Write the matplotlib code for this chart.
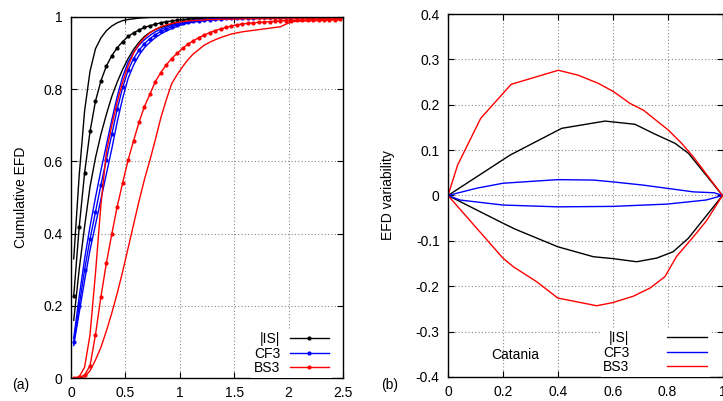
import numpy as np
import matplotlib
matplotlib.use("Agg")
import matplotlib.pyplot as plt

plt.rcParams['font.family'] = ['Liberation Sans', 'DejaVu Sans']
plt.rcParams['font.size'] = 10

# ---------------- panel (a): cumulative EFD ----------------
efd_x = np.round(np.arange(0.025, 2.5, 0.05), 3)

is_upper = [0.33, 0.56, 0.74, 0.85, 0.912, 0.942, 0.962, 0.975, 0.984, 0.990,
            0.993, 0.995, 0.997, 0.998, 0.999] + [1.0] * 35
is_mean = [0.227, 0.417, 0.568, 0.683, 0.767, 0.823, 0.864, 0.893, 0.915, 0.932,
           0.946, 0.956, 0.964, 0.971, 0.976, 0.980, 0.984, 0.987, 0.989, 0.991,
           0.993, 0.994, 0.995, 0.996, 0.997, 0.998, 0.998, 0.999, 0.999, 0.999] + [1.0] * 20
is_lower = [0.16, 0.30, 0.42, 0.53, 0.61, 0.675, 0.73, 0.78, 0.82, 0.855,
            0.885, 0.91, 0.93, 0.946, 0.957, 0.965, 0.971, 0.976, 0.980, 0.983,
            0.986, 0.988, 0.990, 0.992, 0.993, 0.994, 0.995, 0.996, 0.997, 0.998,
            0.998, 0.999, 0.999, 0.999, 0.999] + [1.0] * 15

cf3_upper = [0.11, 0.225, 0.33, 0.42, 0.5, 0.575, 0.645, 0.715, 0.78, 0.835,
             0.875, 0.902, 0.922, 0.937, 0.949, 0.959, 0.966, 0.972, 0.977, 0.981,
             0.985, 0.988, 0.99, 0.992, 0.993, 0.994, 0.995, 0.996, 0.997, 0.998,
             0.998, 0.999, 0.999, 0.999, 0.999] + [1.0] * 15
cf3_mean = [0.10, 0.20, 0.30, 0.385, 0.46, 0.535, 0.605, 0.675, 0.745, 0.805,
            0.853, 0.885, 0.908, 0.926, 0.94, 0.951, 0.96, 0.967, 0.973, 0.978,
            0.982, 0.985, 0.988, 0.99, 0.992, 0.993, 0.994, 0.995, 0.996, 0.997,
            0.997, 0.998, 0.998, 0.998, 0.999] + [0.999] * 5 + [1.0] * 10
cf3_lower = [0.09, 0.18, 0.27, 0.355, 0.425, 0.495, 0.565, 0.635, 0.71, 0.775,
             0.83, 0.867, 0.894, 0.915, 0.93, 0.943, 0.953, 0.961, 0.968, 0.974,
             0.979, 0.983, 0.986, 0.988, 0.99, 0.991, 0.992, 0.993, 0.994, 0.995,
             0.996, 0.996, 0.997, 0.997, 0.998] + [0.998] * 5 + [0.999] * 10

bs3_upper = [0.0, 0.003, 0.03, 0.12, 0.29, 0.48, 0.625, 0.70, 0.765, 0.82,
             0.865, 0.9, 0.925, 0.943, 0.956, 0.966, 0.973, 0.978, 0.982, 0.985,
             0.987, 0.989, 0.99, 0.991, 0.992, 0.993, 0.993, 0.994, 0.994, 0.994,
             0.994] + [0.995] * 19
bs3_mean = [0.0, 0.002, 0.008, 0.034, 0.12, 0.225, 0.318, 0.399, 0.475, 0.541,
            0.604, 0.657, 0.708, 0.752, 0.786, 0.821, 0.846, 0.867, 0.885, 0.899,
            0.913, 0.925, 0.934, 0.943, 0.95, 0.957, 0.962, 0.967, 0.971, 0.975,
            0.978, 0.981, 0.982, 0.984, 0.985, 0.986, 0.987, 0.988, 0.989, 0.99,
            0.99, 0.991, 0.991, 0.992, 0.992, 0.992, 0.993, 0.993, 0.993, 0.994]
bs3_lower = [0.0, 0.0, 0.003, 0.02, 0.05, 0.085, 0.13, 0.18, 0.235, 0.295,
             0.36, 0.425, 0.49, 0.55, 0.603, 0.66, 0.72, 0.77, 0.815, 0.84,
             0.862, 0.882, 0.898, 0.91, 0.922, 0.93, 0.937, 0.943, 0.948, 0.953,
             0.956, 0.959, 0.961, 0.963, 0.965, 0.967, 0.969, 0.971, 0.973, 0.98,
             0.987, 0.988, 0.989, 0.989, 0.99, 0.99, 0.991, 0.991, 0.992, 0.992]

# ---------------- panel (b): EFD variability ----------------
is_up_x = [0.0, 0.226, 0.414, 0.572, 0.681, 0.748, 0.827, 0.876, 1.0]
is_up_y = [0.0, 0.089, 0.148, 0.164, 0.157, 0.137, 0.115, 0.093, 0.0]
is_lo_x = [0.0, 0.2, 0.244, 0.4, 0.53, 0.6, 0.687, 0.76, 0.82, 0.876, 1.0]
is_lo_y = [0.0, -0.061, -0.074, -0.113, -0.135, -0.139, -0.146, -0.138, -0.124, -0.094, 0.0]

cf_up_x = [0.0, 0.104, 0.2, 0.4, 0.53, 0.6, 0.71, 0.894, 0.97, 1.0]
cf_up_y = [0.0, 0.016, 0.027, 0.035, 0.034, 0.03, 0.023, 0.008, 0.006, 0.0]
cf_lo_x = [0.0, 0.044, 0.2, 0.4, 0.6, 0.797, 0.94, 1.0]
cf_lo_y = [0.0, -0.01, -0.021, -0.025, -0.024, -0.019, -0.01, 0.0]

bs_up_x = [0.0, 0.035, 0.119, 0.23, 0.402, 0.475, 0.548, 0.603, 0.663, 0.712, 0.803, 0.851, 0.894, 1.0]
bs_up_y = [0.0, 0.067, 0.17, 0.245, 0.276, 0.265, 0.247, 0.229, 0.203, 0.188, 0.144, 0.115, 0.085, 0.0]
bs_lo_x = [0.0, 0.2, 0.238, 0.323, 0.4, 0.542, 0.6, 0.675, 0.736, 0.79, 0.833, 0.894, 0.94, 1.0]
bs_lo_y = [0.0, -0.138, -0.157, -0.19, -0.226, -0.243, -0.236, -0.222, -0.204, -0.179, -0.134, -0.091, -0.057, 0.0]

series_labels = ['|IS|', 'CF3', 'BS3']
series_colors = ['black', '#0000ff', '#ff0000']

W, H = 723, 401
fig = plt.figure(figsize=(W / 100, H / 100), dpi=100)

ax1 = fig.add_axes([71 / W, 1 - 378 / H, 272 / W, 361 / H])
ax2 = fig.add_axes([448 / W, 1 - 377 / H, 274.5 / W, 363 / H])

grid_kw = dict(color='#888888', linestyle=(0, (1, 2)), linewidth=0.8)

# panel (a)
groups = [(is_upper, is_mean, is_lower), (cf3_upper, cf3_mean, cf3_lower),
          (bs3_upper, bs3_mean, bs3_lower)]
for (up, mean, lo), col, lab in zip(groups, series_colors, series_labels):
    ax1.plot(efd_x, up, color=col, lw=1.0)
    ax1.plot(efd_x, lo, color=col, lw=1.0)
    ax1.plot(efd_x, mean, color=col, lw=1.0, marker='o', ms=2.0, label=lab)

ax1.set_xlim(0, 2.5)
ax1.set_ylim(0, 1)
ax1.set_xticks([0, 0.5, 1, 1.5, 2, 2.5])
ax1.set_xticklabels(['0', '0.5', '1', '1.5', '2', '2.5'])
ax1.set_yticks([0, 0.2, 0.4, 0.6, 0.8, 1])
ax1.set_yticklabels(['0', '0.2', '0.4', '0.6', '0.8', '1'])
ax1.grid(True, **grid_kw)
ax1.set_ylabel('Cumulative EFD', labelpad=11)
leg1 = ax1.legend(loc='lower right', markerfirst=False, frameon=True, fancybox=False,
                  edgecolor='none', facecolor='white', framealpha=1.0,
                  handlelength=2.8, handletextpad=0.7, labelspacing=0.05,
                  borderpad=0.2, borderaxespad=0.0, bbox_to_anchor=(0.958, 0.0))

# panel (b)
for (ux, uy, lx, ly), col, lab in zip(
        [(is_up_x, is_up_y, is_lo_x, is_lo_y), (cf_up_x, cf_up_y, cf_lo_x, cf_lo_y),
         (bs_up_x, bs_up_y, bs_lo_x, bs_lo_y)], series_colors, series_labels):
    ax2.plot(ux, uy, color=col, lw=1.0, label=lab)
    ax2.plot(lx, ly, color=col, lw=1.0)

ax2.set_xlim(0, 1)
ax2.set_ylim(-0.4, 0.4)
ax2.set_xticks([0, 0.2, 0.4, 0.6, 0.8, 1])
ax2.set_xticklabels(['0', '0.2', '0.4', '0.6', '0.8', '1'])
ax2.set_yticks(np.round(np.arange(-0.4, 0.41, 0.1), 1))
ax2.set_yticklabels(['-0.4', '-0.3', '-0.2', '-0.1', '0', '0.1', '0.2', '0.3', '0.4'])
ax2.grid(True, **grid_kw)
ax2.set_ylabel('EFD variability', labelpad=15)
ax2.text(0.244, -0.351, 'Catania', ha='center', va='center', fontsize=10)
leg2 = ax2.legend(loc='lower right', frameon=True, fancybox=False, markerfirst=False,
                  edgecolor='none', facecolor='white', framealpha=1.0,
                  handlelength=2.9, handletextpad=2.7, labelspacing=0.05,
                  borderpad=0.2, borderaxespad=0.0, bbox_to_anchor=(0.955, 0.0))

for ax in (ax1, ax2):
    ax.tick_params(direction='in', length=4, width=0.8, top=True, right=True,
                   labelsize=10, pad=6)
    for s in ax.spines.values():
        s.set_linewidth(1.0)
    ax.set_axisbelow(True)

fig.text(21 / W, 1 - 385 / H, '(a)', ha='center', va='center', fontsize=10)
fig.text(390 / W, 1 - 385 / H, '(b)', ha='center', va='center', fontsize=10)

fig.savefig('out.png', dpi=100)
